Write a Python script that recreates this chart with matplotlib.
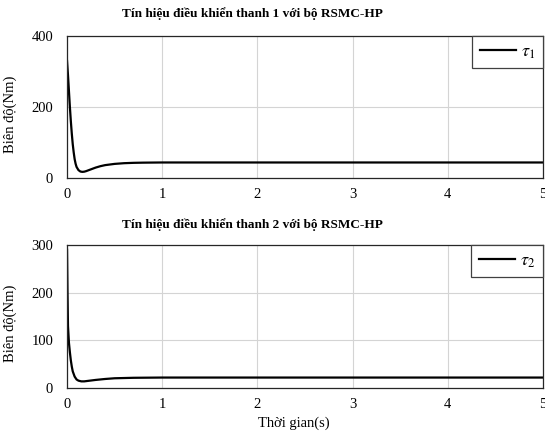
# -*- coding: utf-8 -*-
"""
    Tín hiệu điều khiển của hai thanh với bộ RSMC-HP
"""

import matplotlib
matplotlib.use("Agg")
import matplotlib.pyplot as plt

#========== DATA ==========#

t_1 = [0, 0.01, 0.02, 0.03, 0.04, 0.05, 0.06, 0.07, 0.08, 0.09, 0.10,
       0.12, 0.14, 0.16, 0.18, 0.20, 0.25, 0.30, 0.35, 0.40, 0.50, 0.60,
       0.70, 0.80, 1.0, 1.5, 2.0, 3.0, 4.0, 5.0]
tau_1 = [330, 290, 245, 200, 160, 125, 95, 72, 53, 40, 31,
         22, 18, 17, 17.5, 19, 24, 29, 33, 36, 39.5, 41.5,
         42.5, 43, 43.5, 43.5, 43.5, 43.5, 43.5, 43.5]

t_2 = [0, 0.005, 0.01, 0.02, 0.03, 0.04, 0.05, 0.06, 0.08, 0.10, 0.12,
       0.15, 0.18, 0.20, 0.30, 0.40, 0.50, 0.70, 1.0, 2.0, 3.0, 4.0, 5.0]
tau_2 = [290, 200, 130, 95, 75, 58, 45, 35, 24, 18, 15.5,
         14, 14, 14.5, 17, 19, 20.5, 21.5, 22, 22, 22, 22, 22]

x_ticks = [0, 1, 2, 3, 4, 5]
y_ticks_1 = [0, 200, 400]
y_ticks_2 = [0, 100, 200, 300]

titles = ["Tín hiệu điều khiển thanh 1 với bộ RSMC-HP",
          "Tín hiệu điều khiển thanh 2 với bộ RSMC-HP"]
legends = [r"$\tau_1$", r"$\tau_2$"]
y_label = "Biên độ(Nm)"
x_label = "Thời gian(s)"

#======== PLOT =========#

plt.rcParams['font.family'] = ['Liberation Serif', 'DejaVu Serif']
plt.rcParams['mathtext.fontset'] = 'stix'

fig = plt.figure(figsize=(5.45, 4.36), dpi=100)
ax_1 = fig.add_axes([0.123, 0.592, 0.873, 0.325])
ax_2 = fig.add_axes([0.123, 0.110, 0.873, 0.328])


def style_axes(axes, x, y, yticks, title, label, title_y):
    axes.plot(x, y, color="black", linewidth=1.6, label=label)
    axes.set_xlim(0, 5)
    axes.set_ylim(yticks[0], yticks[-1])
    axes.set_xticks(x_ticks)
    axes.set_yticks(yticks)
    axes.grid(True, color="#d4d4d4", linewidth=0.8)
    axes.set_axisbelow(True)
    axes.tick_params(direction="in", length=0, labelsize=10.5, pad=7)
    axes.tick_params(axis="y", pad=10)
    for spine in axes.spines.values():
        spine.set_color("#262626")
        spine.set_linewidth(0.9)
    axes.text(0.39, title_y, title, transform=axes.transAxes,
              ha="center", va="center", fontsize=9.5, fontweight="bold")
    axes.set_ylabel(y_label, fontsize=10.5)
    axes.yaxis.set_label_coords(-0.105, 0.45)
    leg = axes.legend(loc="upper right", borderaxespad=0, fancybox=False,
                      framealpha=1, edgecolor="#404040", fontsize=13,
                      handlelength=2.0, borderpad=0.4, handletextpad=0.3)
    leg.get_frame().set_linewidth(0.9)


style_axes(ax_1, t_1, tau_1, y_ticks_1, titles[0], legends[0], 1.16)
style_axes(ax_2, t_2, tau_2, y_ticks_2, titles[1], legends[1], 1.14)

ax_2.set_xlabel(x_label, fontsize=10.5)
ax_2.xaxis.set_label_coords(0.477, -0.20)

fig.savefig("out.png", dpi=100)
